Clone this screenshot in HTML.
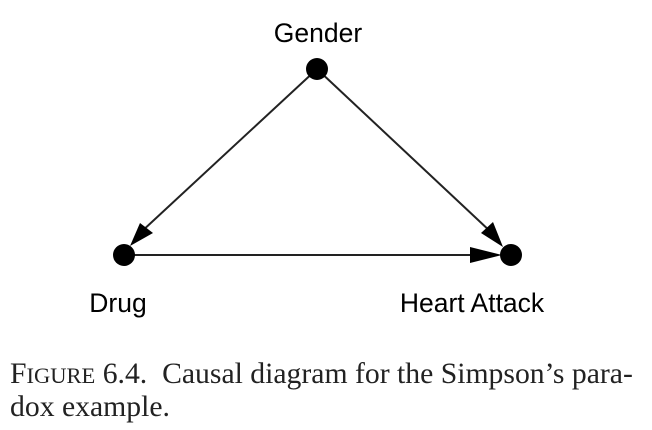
<!DOCTYPE html>
<html><head><style>
html,body{margin:0;padding:0;background:#fff;width:652px;height:430px;overflow:hidden;}
svg{position:absolute;left:0;top:0;}
.cap{position:absolute;left:10px;font-family:"Liberation Serif",serif;font-size:29.7px;color:#222;white-space:nowrap;}
</style></head><body>
<svg width="652" height="430">
<g stroke="#222" stroke-width="2" fill="none">
<line x1="317" y1="69" x2="140" y2="233"/>
<line x1="317" y1="69" x2="492" y2="233"/>
<line x1="124" y1="255" x2="475" y2="255"/>
</g>
<g fill="#000">
<polygon points="130,246 140,223 153,233"/>
<polygon points="503,247 481,233 493,222"/>
<polygon points="502,255 470,247 470,263"/>
<circle cx="317" cy="69" r="11"/>
<circle cx="124" cy="255" r="11"/>
<circle cx="511" cy="255" r="11"/>
</g>
<g font-family="Liberation Sans, sans-serif" font-size="26.5" fill="#000" text-anchor="middle">
<text x="318" y="42">Gender</text>
<text x="118" y="312">Drug</text>
<text x="472" y="312">Heart Attack</text>
</g>
</svg>
<div class="cap" style="top:358px;">F<span style="font-size:22.5px">IGURE</span> 6.4.&nbsp; Causal diagram for the Simpson’s para-</div>
<div class="cap" style="top:391px;">dox example.</div>
</body></html>
